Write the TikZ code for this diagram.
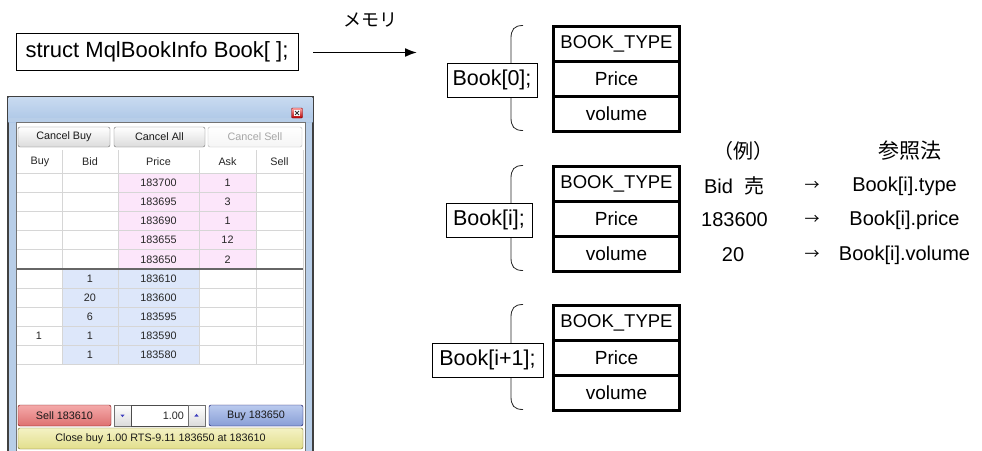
\documentclass[tikz,border=0pt]{standalone}
\usepackage{fontspec}
\setmainfont{Liberation Sans}
\newfontfamily\jpfont{Noto Sans CJK JP}
\usetikzlibrary{arrows.meta}
\newcommand\fsz[1]{\fontsize{#1}{#1}\selectfont}

% window colours
\definecolor{winframe}{RGB}{184,206,232}
\definecolor{wintitletop}{RGB}{200,218,240}
\definecolor{wintitlebot}{RGB}{172,198,230}
\definecolor{askpink}{RGB}{252,230,250}
\definecolor{bidblue}{RGB}{221,231,250}
\definecolor{gridgray}{RGB}{214,214,214}
\definecolor{btnborder}{RGB}{112,112,112}
\definecolor{sellred}{RGB}{222,112,112}
\definecolor{sellredtop}{RGB}{244,170,170}
\definecolor{buyblue}{RGB}{136,158,214}
\definecolor{buybluetop}{RGB}{186,202,238}
\definecolor{closeyel}{RGB}{226,222,140}
\definecolor{closeyeltop}{RGB}{244,242,196}

\tikzset{
  winbtn/.style={draw=btnborder, rounded corners=2pt, top color=white, bottom color=gray!28,
    inner sep=0pt, font=\fsz{10.8}, text=black!90},
  cell/.style={inner sep=0pt, font=\fsz{10.8}, text=black!85},
  field/.style={draw=black, line width=2.4pt, minimum width=126pt, minimum height=35pt,
    inner sep=0pt, font=\fsz{19}},
  typefield/.style={field, font=\fsz{18.5}},
  recname/.style={draw=black, line width=0.7pt, fill=white, minimum height=34pt,
    inner sep=0pt, font=\fsz{21.5}},
  bracepath/.style={line width=0.8pt, draw=black!85},
  reftext/.style={inner sep=0pt, font=\fsz{20}},
  refarrow/.style={inner sep=0pt, font=\jpfont\fsz{15}},
}

\begin{document}
\begin{tikzpicture}[x=1pt,y=-1pt]
\useasboundingbox (0,0) rectangle (982,450);
\fill[white] (0,0) rectangle (982,450);

% ---------- declaration and memory arrow ----------
\node[draw=black, line width=0.8pt, minimum width=282pt, minimum height=37pt, inner sep=0pt,
      font=\fsz{22}] (decl) at (157,51.5) {struct MqlBookInfo Book[ ];};
\coordinate (memfrom) at (313,52.5);
\coordinate (memto) at (417,52.5);
\draw[line width=1.7pt, -{Latex[length=12pt,width=9pt]}] (memfrom) -- (memto);
\node[inner sep=0pt, font=\jpfont\fsz{18}] (memlbl) at (370,20) {メモリ};

% ---------- depth of market window ----------
\draw[line width=1.2pt, draw=black!75, fill=winframe] (8,97) rectangle (313,452);
\shade[top color=wintitletop, bottom color=wintitlebot] (8.6,97.6) rectangle (312.4,122);
\fill[winframe] (8.6,118) rectangle (312.4,122);
\fill[white] (16,122) rectangle (305,452);
\draw[black!55, line width=0.5pt] (16,122) -- (16,452) (305,122) -- (305,452) (16,122) -- (305,122);

% close box
\node[draw=red!55!black, rounded corners=1pt, top color=red!35, bottom color=red!70!black,
      minimum width=11pt, minimum height=10pt, inner sep=0pt] (xbtn) at (297,113) {};
\node[fill=white, minimum size=6pt, inner sep=0pt] (xmark) at (xbtn.center) {};
\draw[black!80, line width=0.9pt] ([shift={(-2,-2)}]xmark.center) -- ([shift={(2,2)}]xmark.center)
  ([shift={(-2,2)}]xmark.center) -- ([shift={(2,-2)}]xmark.center);

% command buttons
\node[winbtn, minimum width=92pt, minimum height=20pt] (cbuy) at (64,137) {Cancel Buy};
\node[winbtn, minimum width=91pt, minimum height=20pt] (call) at (159.5,137) {Cancel All};
\node[winbtn, draw=gray!55, top color=white, bottom color=gray!8, text=gray!70,
      minimum width=94pt, minimum height=20pt] (csell) at (255,137) {Cancel Sell};

% coloured cells
\fill[askpink] (118,173) rectangle (256,269);
\fill[bidblue] (62,269) rectangle (199,364.5);

% grid
\foreach \gx in {62,118,199,256} \draw[gridgray, line width=0.6pt] (\gx,150) -- (\gx,364.5);
\draw[gridgray, line width=0.6pt] (303,150) -- (303,364.5);
\foreach \gy in {173,192.2,211.4,230.6,249.8,288,307.2,326.4,345.6,364.5}
  \draw[gridgray, line width=0.7pt] (17,\gy) -- (303,\gy);
\draw[black!60, line width=1.6pt] (17,269) -- (303,269);

% column headings
\node[cell] (hbuy) at (40,162) {Buy};
\node[cell] (hbid) at (90,162) {Bid};
\node[cell] (hprice) at (158.5,162) {Price};
\node[cell] (hask) at (227.5,162) {Ask};
\node[cell] (hsell) at (279.5,162) {Sell};

% ask side
\foreach \p/\a [count=\k from 0] in {183700/1,183695/3,183690/1,183655/12,183650/2}{
  \node[cell] (ap\k) at (158.5,182.6+19.2*\k) {\p};
  \node[cell] (aa\k) at (227.5,182.6+19.2*\k) {\a};
}
% bid side
\foreach \b/\p [count=\k from 0] in {1/183610,20/183600,6/183595,1/183590,1/183580}{
  \node[cell] (bb\k) at (90,278.6+19.1*\k) {\b};
  \node[cell] (bp\k) at (158.5,278.6+19.1*\k) {\p};
}
\node[cell] (buy3) at (39,335.9) {1};

% order controls
\node[winbtn, draw=red!45!black, top color=sellredtop, bottom color=sellred,
      minimum width=93pt, minimum height=21pt] (sellbtn) at (64.5,415.5) {Sell 183610};
\node[winbtn, minimum width=17pt, minimum height=21pt, rounded corners=0pt] (spdown) at (122.5,415.5) {};
\fill[blue!50!gray] ([shift={(-2.2,-1)}]spdown.center) -- ([shift={(2.2,-1)}]spdown.center)
  -- ([shift={(0,1.6)}]spdown.center) -- cycle;
\node[draw=black!70, fill=white, minimum width=57pt, minimum height=21pt, inner sep=0pt]
  (lotbox) at (159.5,415.5) {};
\node[cell, anchor=east] (lot) at ([xshift=-4pt]lotbox.east) {1.00};
\node[winbtn, minimum width=17pt, minimum height=21pt, rounded corners=0pt] (spup) at (196.5,415.5) {};
\fill[blue!50!gray] ([shift={(-2.2,1)}]spup.center) -- ([shift={(2.2,1)}]spup.center)
  -- ([shift={(0,-1.6)}]spup.center) -- cycle;
\node[winbtn, draw=blue!35!black, top color=buybluetop, bottom color=buyblue,
      minimum width=94pt, minimum height=21pt] (buybtn) at (256,415.5) {Buy 183650};
\node[winbtn, draw=olive!70!black, top color=closeyeltop, bottom color=closeyel,
      minimum width=285pt, minimum height=21pt] (closebtn) at (160.5,438.5)
      {Close buy 1.00 RTS-9.11 183650 at 183610};

% ---------- array elements in memory ----------
% element braces
\foreach \t in {25.5,165.5,304.5}{
  \draw[bracepath] (523,\t) .. controls (514,\t) and (511,\t+4) .. (511,\t+13)
    -- (511,\t+92) .. controls (511,\t+101) and (514,\t+105) .. (523,\t+105);
}

% Book[0]
\node[typefield] (e0type) at (616.5,44) {BOOK\_TYPE};
\node[field] (e0price) at (616.5,79) {Price};
\node[field] (e0vol) at (616.5,114) {volume};
\node[recname, minimum width=90pt] (e0) at (492,80) {Book[0];};

% Book[i]
\node[typefield] (eitype) at (616.5,184) {BOOK\_TYPE};
\node[field] (eiprice) at (616.5,219) {Price};
\node[field] (eivol) at (616.5,254) {volume};
\node[recname, minimum width=86pt] (ei) at (489,220) {Book[i];};

% Book[i+1]
\node[typefield] (enexttype) at (616.5,323) {BOOK\_TYPE};
\node[field] (enextprice) at (616.5,358) {Price};
\node[field] (enextvol) at (616.5,393) {volume};
\node[recname, minimum width=111pt] (enext) at (487.5,360) {Book[i+1];};

% ---------- example values and access expressions ----------
\node[reftext, font=\jpfont\fsz{20}] (exhead) at (743,151) {（例）};
\node[reftext, font=\jpfont\fsz{21}] (refhead) at (910,151) {参照法};

\node[reftext] (ex1) at (734.5,186) {Bid\hspace{0.6em}{\jpfont 売}};
\node[refarrow] (ar1) at (812,186) {→};
\node[reftext] (rf1) at (904.5,186) {Book[i].type};

\node[reftext] (ex2) at (734.5,220) {183600};
\node[refarrow] (ar2) at (812,220) {→};
\node[reftext] (rf2) at (904.5,220) {Book[i].price};

\node[reftext] (ex3) at (733,255) {20};
\node[refarrow] (ar3) at (812,255) {→};
\node[reftext] (rf3) at (904.5,255) {Book[i].volume};
\end{tikzpicture}
\end{document}
